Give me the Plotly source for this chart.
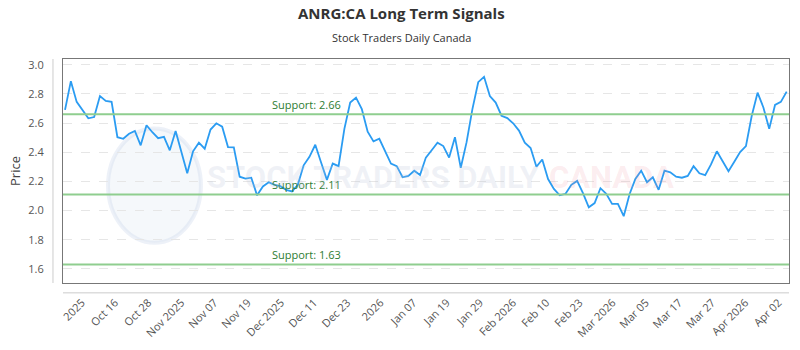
import plotly.graph_objects as go

prices = [
    2.69, 2.887, 2.745, 2.684, 2.632, 2.641, 2.785, 2.752, 2.745, 2.503,
    2.492, 2.526, 2.546, 2.447, 2.585, 2.537, 2.496, 2.505, 2.413, 2.546,
    2.40, 2.255, 2.406, 2.465, 2.424, 2.555, 2.598, 2.575, 2.435, 2.433,
    2.232, 2.219, 2.225, 2.104, 2.165, 2.194, 2.176, 2.167, 2.142, 2.131,
    2.176, 2.31, 2.368, 2.451, 2.329, 2.21, 2.322, 2.304, 2.56, 2.74,
    2.774, 2.695, 2.541, 2.474, 2.492, 2.406, 2.322, 2.304, 2.228, 2.237,
    2.273, 2.243, 2.363, 2.413, 2.465, 2.442, 2.363, 2.503, 2.293, 2.469,
    2.695, 2.88, 2.917, 2.785, 2.74, 2.65, 2.634, 2.598, 2.548, 2.465,
    2.429, 2.30, 2.35, 2.216, 2.148, 2.104, 2.115, 2.176, 2.203, 2.119,
    2.022, 2.051, 2.153, 2.115, 2.045, 2.045, 1.961, 2.112, 2.216, 2.273,
    2.194, 2.228, 2.142, 2.273, 2.262, 2.232, 2.225, 2.237, 2.304, 2.255,
    2.243, 2.316, 2.406, 2.338, 2.27, 2.334, 2.401, 2.442, 2.65, 2.808,
    2.707, 2.56, 2.724, 2.745, 2.815,
]
tick_labels = [
    "2025", "Oct 16", "Oct 28", "Nov 2025", "Nov 07", "Nov 19", "Dec 2025",
    "Dec 11", "Dec 23", "2026", "Jan 07", "Jan 19", "Jan 29", "Feb 2026",
    "Feb 10", "Feb 23", "Mar 2026", "Mar 05", "Mar 17", "Mar 27",
    "Apr 2026", "Apr 02",
]
support_levels = [2.66, 2.11, 1.63]

x_idx = list(range(len(prices)))
tick_start, tick_step = 2.9, 5.7
tick_pos = [tick_start + tick_step * k for k in range(len(tick_labels))]

fig = go.Figure()
fig.add_trace(go.Scatter(
    x=x_idx, y=prices, mode="lines",
    line=dict(color="#2b9cf2", width=1.8),
    hoverinfo="y", showlegend=False,
))

for lvl in support_levels:
    fig.add_shape(type="line", xref="paper", x0=0, x1=1, yref="y", y0=lvl, y1=lvl,
                  line=dict(color="#8fce8f", width=2), layer="above")
    fig.add_annotation(xref="paper", x=0.285, y=lvl, yref="y", xanchor="left",
                       yanchor="bottom", yshift=0, showarrow=False,
                       text=f"Support: {lvl:.2f}",
                       font=dict(family="Open Sans", size=11, color="#2e7d32"))

# watermark
fig.add_shape(type="circle", xref="paper", yref="paper",
              x0=0.062, x1=0.19, y0=0.18, y1=0.69,
              fillcolor="rgba(195,210,232,0.16)", line=dict(color="rgba(195,210,232,0.3)", width=4),
              layer="below")
fig.add_annotation(xref="paper", yref="paper", x=0.195, y=0.47, xanchor="left", showarrow=False,
                   text="<b>STOCK TRADERS DAILY</b>",
                   font=dict(family="Roboto", size=31, color="rgba(185,195,215,0.22)"))
fig.add_annotation(xref="paper", yref="paper", x=0.667, y=0.47, xanchor="left", showarrow=False,
                   text="<b>CANADA</b>",
                   font=dict(family="Roboto", size=31, color="rgba(240,150,160,0.18)"))

# outer axis lines
fig.add_shape(type="line", xref="paper", yref="paper", x0=-0.0138, x1=-0.0138, y0=0, y1=1,
              line=dict(color="#cccccc", width=1))
fig.add_shape(type="line", xref="paper", yref="paper", x0=0, x1=1, y0=-0.044, y1=-0.044,
              line=dict(color="#cccccc", width=1))

# titles
fig.add_annotation(xref="paper", yref="paper", x=0.466, y=1.205, yanchor="middle", showarrow=False,
                   text="<b>ANRG:CA Long Term Signals</b>",
                   font=dict(family="Open Sans", size=15, color="#333"))
fig.add_annotation(xref="paper", yref="paper", x=0.466, y=1.097, yanchor="middle", showarrow=False,
                   text="Stock Traders Daily Canada",
                   font=dict(family="Open Sans", size=11, color="#333"))

fig.update_layout(
    width=800, height=350,
    margin=dict(l=63, r=10, t=59, b=64),
    paper_bgcolor="white", plot_bgcolor="white",
    font=dict(family="Open Sans", size=11, color="#555"),
    xaxis=dict(range=[-0.35, 124.4], tickmode="array", tickvals=tick_pos, ticktext=tick_labels,
               tickangle=-45, showgrid=False, zeroline=False, showline=True, mirror=True,
               linecolor="#777", linewidth=1, ticks="", ticklabelstandoff=8,
               tickfont=dict(size=11, color="#555")),
    yaxis=dict(range=[1.503, 3.039], tickvals=[1.6, 1.8, 2.0, 2.2, 2.4, 2.6, 2.8, 3.0],
               tickformat=".1f", showgrid=True, gridcolor="#e6e6e6", griddash="dash",
               zeroline=False, showline=True, mirror=True, linecolor="#777", linewidth=1,
               ticks="", ticklabelstandoff=16,
               title=dict(text="Price", standoff=4, font=dict(size=13, color="#444")),
               tickfont=dict(size=11, color="#555")),
)

fig.write_html("out.html")
